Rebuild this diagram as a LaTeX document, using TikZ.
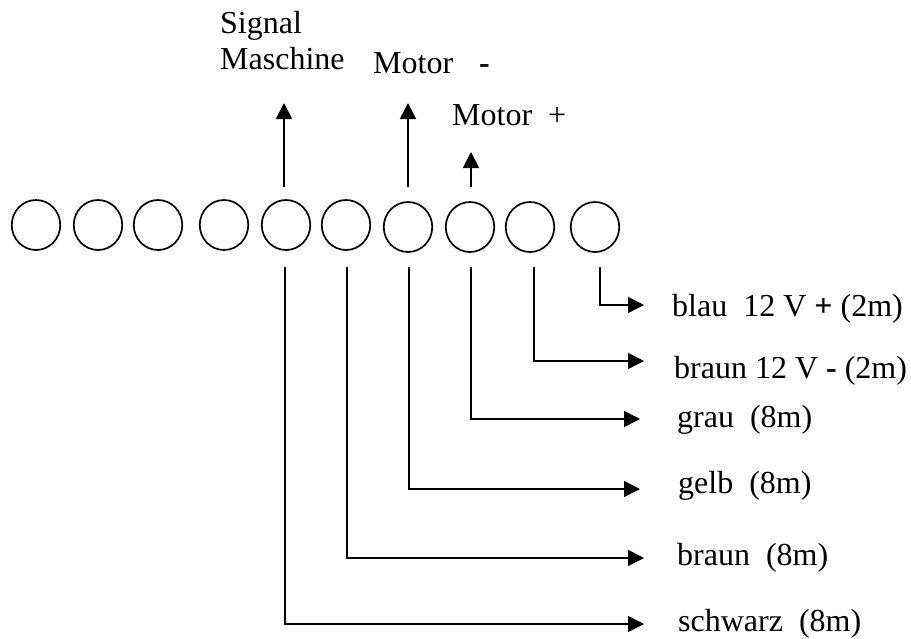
\documentclass[tikz,border=0pt]{standalone}
\usepackage{fontspec}
\setmainfont{Liberation Serif}
\usetikzlibrary{arrows.meta,shapes.geometric}
\tikzset{
  pin/.style={draw=black,line width=1.7pt,ellipse,minimum width=48.5pt,minimum height=50pt,inner sep=0pt},
  wire/.style={line width=1.7pt,-{Triangle[length=16pt,width=16pt]}},
  lbl/.style={anchor=base west,inner sep=0pt,font=\fontsize{32pt}{34pt}\selectfont}
}
\begin{document}
\begin{tikzpicture}[x=1pt,y=-1pt]
\useasboundingbox (0,0) rectangle (911,638);
% pins
\node[pin] (p1) at (36,225) {};
\node[pin] (p2) at (98,225) {};
\node[pin] (p3) at (158,225) {};
\node[pin] (p4) at (224,225) {};
\node[pin] (p5) at (286,225) {};
\node[pin] (p6) at (346,225) {};
\node[pin] (p7) at (408,227) {};
\node[pin] (p8) at (470,227) {};
\node[pin] (p9) at (530,227) {};
\node[pin] (p10) at (595,227) {};
% labels
\node[lbl] (tsig) at (220,33) {Signal};
\node[lbl] (tmas) at (220,69) {Maschine};
\node[lbl] (tmm) at (373,73) {Motor};
\node[lbl] (tmmsign) at (479,73) {\textbf{-}};
\node[lbl] (tmp) at (452,125) {Motor};
\node[lbl] (tmpsign) at (548,125) {+};
\node[lbl] (l1) at (672,316) {blau\ \ 12 V \textbf{+} (2m)};
\node[lbl] (l2) at (674,378) {braun 12 V \textbf{-} (2m)};
\node[lbl] (l3) at (677,427) {grau\ \ (8m)};
\node[lbl] (l4) at (678,493) {gelb\ \ (8m)};
\node[lbl] (l5) at (677,565) {braun\ \ (8m)};
\node[lbl] (l6) at (678,631) {schwarz\ \ (8m)};
% free ends
\coordinate (u5s) at (284,187);
\coordinate (u5e) at (284,103);
\coordinate (u7s) at (408,187);
\coordinate (u7e) at (408,103);
\coordinate (u8s) at (471,187);
\coordinate (u8e) at (471,152);
\coordinate (d10) at (600,267);
\coordinate (d9) at (534,267);
\coordinate (d8) at (471,267);
\coordinate (d7) at (409,267);
\coordinate (d6) at (347,267);
\coordinate (d5) at (285,267);
\coordinate (e1) at (644,305);
\coordinate (e2) at (644,361);
\coordinate (e3) at (640,419);
\coordinate (e4) at (640,489);
\coordinate (e5) at (644,558);
\coordinate (e6) at (644,624);
% connectors
\draw[wire] (u5s) -- (u5e);
\draw[wire] (u7s) -- (u7e);
\draw[wire] (u8s) -- (u8e);
\draw[wire] (d10) |- (e1);
\draw[wire] (d9) |- (e2);
\draw[wire] (d8) |- (e3);
\draw[wire] (d7) |- (e4);
\draw[wire] (d6) |- (e5);
\draw[wire] (d5) |- (e6);
\end{tikzpicture}
\end{document}
